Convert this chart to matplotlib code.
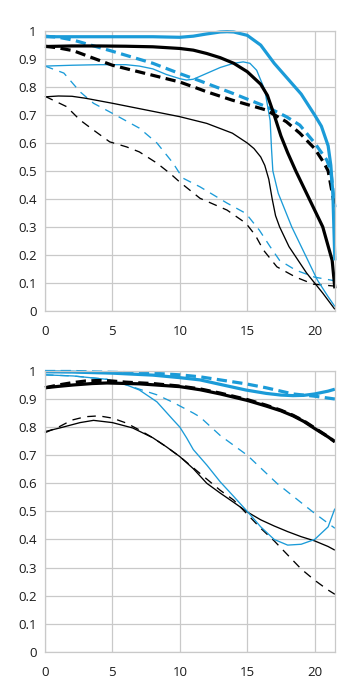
import matplotlib
matplotlib.use("Agg")
import matplotlib.pyplot as plt

plt.rcParams['font.family'] = ['Open Sans', 'DejaVu Sans']

BLUE = '#1b9bd8'
GRID = '#c9c9c9'

x_ticks = [0, 5, 10, 15, 20]
y_ticks = [0, 0.1, 0.2, 0.3, 0.4, 0.5, 0.6, 0.7, 0.8, 0.9, 1]
y_tick_labels = ['0', '0.1', '0.2', '0.3', '0.4', '0.5', '0.6', '0.7', '0.8', '0.9', '1']
x_max = 21.5

# ---------- top panel ----------
top_thick_blue_solid_x = [0, 2, 4, 6, 8, 10, 11, 12, 13, 13.5, 14, 15, 16, 17, 18, 19, 20, 20.5, 21, 21.2, 21.35, 21.5]
top_thick_blue_solid_y = [0.98, 0.98, 0.98, 0.98, 0.98, 0.978, 0.982, 0.99, 0.997, 0.998, 0.997, 0.985, 0.95, 0.885, 0.83, 0.775, 0.70, 0.66, 0.59, 0.52, 0.42, 0.18]

top_thick_blue_dash_x = [0, 1, 2.1, 5, 8, 10, 11.5, 13.9, 16.4, 17.9, 18.9, 20, 20.9, 21.2, 21.5]
top_thick_blue_dash_y = [0.982, 0.978, 0.968, 0.928, 0.885, 0.848, 0.822, 0.778, 0.73, 0.694, 0.664, 0.60, 0.539, 0.50, 0.37]

top_thick_black_solid_x = [0, 2, 4, 6, 8, 10, 11, 12, 13, 14, 15, 16, 16.5, 17, 17.5, 18, 18.6, 19.6, 20.6, 21.3, 21.5]
top_thick_black_solid_y = [0.945, 0.947, 0.947, 0.946, 0.944, 0.938, 0.932, 0.92, 0.905, 0.885, 0.855, 0.81, 0.77, 0.70, 0.625, 0.565, 0.50, 0.40, 0.30, 0.18, 0.08]

top_thick_black_dash_x = [0, 1, 2.1, 5, 8, 10, 11.5, 12, 13.9, 16.4, 17.9, 18.9, 20, 20.7, 21.0, 21.5]
top_thick_black_dash_y = [0.946, 0.94, 0.93, 0.878, 0.842, 0.818, 0.792, 0.783, 0.753, 0.718, 0.676, 0.635, 0.58, 0.528, 0.50, 0.37]

top_thin_blue_solid_x = [0, 2, 4, 6, 7, 8, 9, 10, 10.5, 11, 12, 13, 14, 14.7, 15.2, 15.7, 16.3, 16.7, 16.8, 16.9, 17.3, 18.3, 19.5, 20.2, 21, 21.5]
top_thin_blue_solid_y = [0.875, 0.878, 0.88, 0.88, 0.875, 0.865, 0.845, 0.83, 0.825, 0.828, 0.849, 0.87, 0.885, 0.89, 0.885, 0.86, 0.79, 0.68, 0.58, 0.50, 0.42, 0.30, 0.18, 0.11, 0.05, 0.015]

top_thin_blue_dash_x = [0, 1.4, 2.6, 3.6, 5, 7, 8.3, 9.5, 10.2, 11.5, 13.5, 14.9, 15.9, 16.7, 17.4, 18.6, 20, 21.5]
top_thin_blue_dash_y = [0.875, 0.85, 0.783, 0.742, 0.706, 0.653, 0.60, 0.528, 0.475, 0.443, 0.385, 0.348, 0.288, 0.229, 0.18, 0.145, 0.12, 0.107]

top_thin_black_solid_x = [0, 1, 2, 3, 5, 7.5, 10, 12, 13.9, 15, 15.5, 16, 16.3, 16.6, 16.85, 17.1, 17.4, 18.1, 19.4, 20.6, 21.5]
top_thin_black_solid_y = [0.765, 0.768, 0.767, 0.76, 0.742, 0.718, 0.694, 0.67, 0.635, 0.60, 0.58, 0.55, 0.52, 0.47, 0.40, 0.34, 0.30, 0.229, 0.135, 0.063, 0.005]

top_thin_black_dash_x = [0, 1.6, 2.6, 3.6, 4.8, 6.05, 7, 8.3, 9.3, 10, 11.5, 13.5, 14.9, 15.6, 16.2, 17.2, 18.6, 19.9, 21.5]
top_thin_black_dash_y = [0.767, 0.73, 0.682, 0.646, 0.604, 0.586, 0.568, 0.528, 0.49, 0.46, 0.402, 0.36, 0.313, 0.27, 0.217, 0.157, 0.12, 0.095, 0.088]

# ---------- bottom panel ----------
bot_thick_blue_solid_x = [0, 2, 5, 8, 10, 11.5, 13, 14.9, 16.4, 17.5, 18.4, 19.2, 20, 21, 21.5]
bot_thick_blue_solid_y = [0.997, 0.996, 0.992, 0.985, 0.976, 0.968, 0.952, 0.932, 0.92, 0.914, 0.912, 0.913, 0.918, 0.928, 0.935]

bot_thick_blue_dash_x = [0, 2, 5, 8, 10, 11.5, 13, 14.9, 16.4, 18.4, 20, 21.5]
bot_thick_blue_dash_y = [0.998, 0.998, 0.995, 0.992, 0.986, 0.979, 0.968, 0.954, 0.94, 0.918, 0.91, 0.90]

bot_thick_black_solid_x = [0, 1, 2.1, 3.5, 4.6, 7, 10, 11.5, 13, 15, 16.4, 17.5, 18.4, 19.2, 20, 21, 21.5]
bot_thick_black_solid_y = [0.94, 0.945, 0.95, 0.955, 0.957, 0.954, 0.944, 0.933, 0.918, 0.895, 0.875, 0.858, 0.84, 0.82, 0.795, 0.765, 0.748]

bot_thick_black_dash_x = [0, 1, 2, 3, 4, 5, 6, 8, 10, 11.5, 13, 15, 16.4, 17.5, 18.4, 19.2, 20, 21, 21.5]
bot_thick_black_dash_y = [0.94, 0.95, 0.958, 0.964, 0.966, 0.964, 0.96, 0.955, 0.946, 0.936, 0.921, 0.898, 0.878, 0.86, 0.842, 0.822, 0.797, 0.766, 0.748]

bot_thin_blue_solid_x = [0, 2.1, 4.6, 6.05, 7, 8.3, 9.5, 10, 10.5, 11, 12, 13, 14, 15, 16, 17, 18, 19, 20, 21, 21.5]
bot_thin_blue_solid_y = [0.986, 0.982, 0.97, 0.95, 0.932, 0.89, 0.826, 0.80, 0.762, 0.72, 0.665, 0.605, 0.553, 0.50, 0.445, 0.40, 0.38, 0.383, 0.40, 0.445, 0.51]

bot_thin_blue_dash_x = [0, 2.1, 4.6, 6.05, 7, 8.3, 9.5, 11, 11.5, 13, 15, 17.2, 20, 21.5]
bot_thin_blue_dash_y = [0.986, 0.982, 0.97, 0.95, 0.935, 0.915, 0.888, 0.85, 0.836, 0.77, 0.70, 0.60, 0.493, 0.44]

bot_thin_black_solid_x = [0, 1.1, 2.6, 3.6, 5, 6.5, 8, 9, 10, 11, 12, 13, 14, 15, 16, 17, 18, 19, 20, 21, 21.5]
bot_thin_black_solid_y = [0.784, 0.797, 0.816, 0.824, 0.816, 0.797, 0.762, 0.73, 0.695, 0.652, 0.60, 0.565, 0.532, 0.498, 0.47, 0.448, 0.428, 0.41, 0.395, 0.375, 0.362]

bot_thin_black_dash_x = [0, 1, 2, 3, 4, 5, 6, 7, 8, 9, 10, 11, 12, 13, 14, 15, 16, 17, 18, 19, 20, 21, 21.5]
bot_thin_black_dash_y = [0.78, 0.80, 0.825, 0.837, 0.84, 0.832, 0.815, 0.79, 0.762, 0.73, 0.695, 0.655, 0.615, 0.575, 0.54, 0.49, 0.44, 0.395, 0.345, 0.295, 0.255, 0.22, 0.205]

THICK = 2.3
THIN = 0.95
thick_dash = (0, (3.2, 1.7))
thin_dash = (0, (6.5, 5.0))

fig = plt.figure(figsize=(3.57, 6.92), dpi=100)
ax_top = fig.add_axes([0.126, 0.551, 0.812, 0.404])
ax_bot = fig.add_axes([0.126, 0.058, 0.812, 0.406])


def style(ax):
    ax.set_xlim(0, x_max)
    ax.set_ylim(0, 1)
    ax.set_xticks(x_ticks)
    ax.set_xticklabels([str(t) for t in x_ticks])
    ax.set_yticks(y_ticks)
    ax.set_yticklabels(y_tick_labels)
    ax.grid(True, color=GRID, linewidth=0.9)
    ax.set_axisbelow(True)
    for s in ax.spines.values():
        s.set_color(GRID)
        s.set_linewidth(0.9)
    ax.tick_params(axis='both', length=0, labelsize=9.5, colors='#1a1a1a')
    ax.tick_params(axis='x', pad=10)
    ax.tick_params(axis='y', pad=6)


def draw(ax, series):
    for x, y, color, lw, ls in series:
        ax.plot(x, y, color=color, linewidth=lw, linestyle=ls, clip_on=False,
                solid_capstyle='butt', dash_capstyle='butt')


style(ax_top)
draw(ax_top, [
    (top_thin_black_dash_x, top_thin_black_dash_y, 'black', THIN, thin_dash),
    (top_thin_blue_dash_x, top_thin_blue_dash_y, BLUE, THIN, thin_dash),
    (top_thin_black_solid_x, top_thin_black_solid_y, 'black', THIN, '-'),
    (top_thin_blue_solid_x, top_thin_blue_solid_y, BLUE, THIN, '-'),
    (top_thick_black_dash_x, top_thick_black_dash_y, 'black', THICK, thick_dash),
    (top_thick_blue_dash_x, top_thick_blue_dash_y, BLUE, THICK, thick_dash),
    (top_thick_black_solid_x, top_thick_black_solid_y, 'black', THICK, '-'),
    (top_thick_blue_solid_x, top_thick_blue_solid_y, BLUE, THICK, '-'),
])

style(ax_bot)
draw(ax_bot, [
    (bot_thin_black_dash_x, bot_thin_black_dash_y, 'black', THIN, thin_dash),
    (bot_thin_blue_dash_x, bot_thin_blue_dash_y, BLUE, THIN, thin_dash),
    (bot_thin_black_solid_x, bot_thin_black_solid_y, 'black', THIN, '-'),
    (bot_thin_blue_solid_x, bot_thin_blue_solid_y, BLUE, THIN, '-'),
    (bot_thick_black_dash_x, bot_thick_black_dash_y, 'black', THICK, thick_dash),
    (bot_thick_blue_dash_x, bot_thick_blue_dash_y, BLUE, THICK, thick_dash),
    (bot_thick_black_solid_x, bot_thick_black_solid_y, 'black', THICK, '-'),
    (bot_thick_blue_solid_x, bot_thick_blue_solid_y, BLUE, THICK, '-'),
])

fig.savefig('out.png', dpi=100)
